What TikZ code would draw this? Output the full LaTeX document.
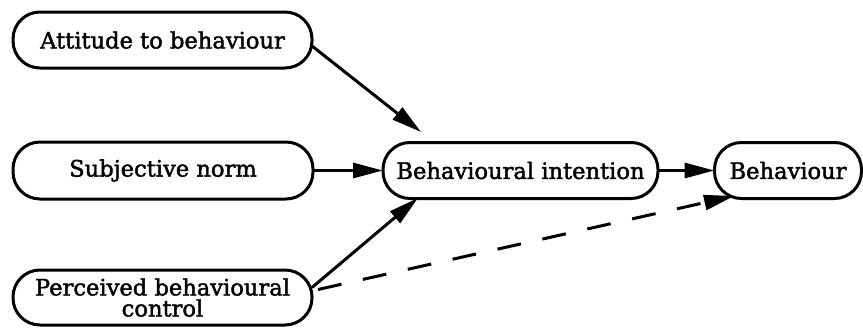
\documentclass[tikz,border=0pt]{standalone}
\usepackage{fontspec}
\setmainfont[FakeBold=1.8]{DejaVu Serif}
\usetikzlibrary{arrows.meta}
\begin{document}
\begin{tikzpicture}[x=0.5pt,y=-0.5pt,
  box/.style={draw=black, line width=1.5pt, rounded corners=13.5pt, inner sep=0pt, outer sep=0pt,
    align=center, font=\fontsize{11.3}{10.5}\selectfont},
  conn/.style={line width=1.5pt, -{Triangle[length=15pt,width=7.5pt]}},
  dconn/.style={conn, dash pattern=on 12pt off 11pt}]
\useasboundingbox (0,0) rectangle (863,327);
\node[box, minimum width=149.5pt, minimum height=28pt] (att) at (162.5,40) {Attitude to behaviour};
\node[box, minimum width=150pt, minimum height=28.5pt] (sub) at (163,170.5) {Subjective norm};
\node[box, minimum width=149.5pt, minimum height=27.5pt] (per) at (162.5,297.5) {Perceived behavioural\\control};
\node[box, minimum width=137.5pt, minimum height=28pt] (bi) at (520.5,170.5) {Behavioural intention};
\node[box, minimum width=73.5pt, minimum height=28pt] (beh) at (788,170.5) {Behaviour};
\coordinate (t1) at (421,132);
\coordinate (t2) at (418,198);
\coordinate (t3) at (734,196);
\draw[conn] ([yshift=-3pt]att.east) -- (t1);
\draw[conn] (sub.east) -- (bi.west);
\draw[conn] ([yshift=5pt]per.east) -- (t2);
\draw[conn] (bi.east) -- (beh.west);
\draw[dconn] ([xshift=3pt,yshift=4pt]per.east) -- (t3);
\end{tikzpicture}
\end{document}
